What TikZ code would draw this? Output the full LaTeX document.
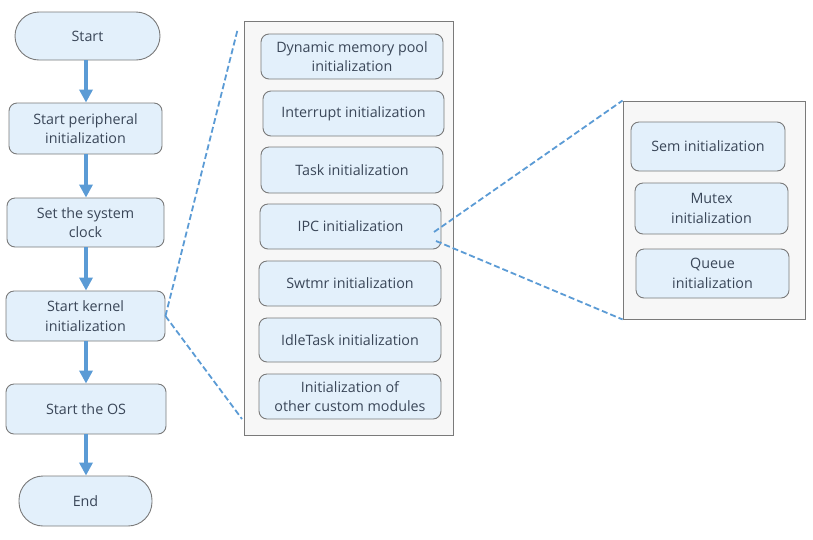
\documentclass[tikz,border=0pt]{standalone}
\usepackage{fontspec}
\setmainfont{Open Sans}
\usetikzlibrary{arrows.meta,shapes.misc}
\definecolor{boxfill}{HTML}{E3F0FB}
\definecolor{boxdraw}{HTML}{7A7A7A}
\definecolor{txt}{HTML}{3A4658}
\definecolor{arrowblue}{HTML}{5B9BD5}
\definecolor{panelfill}{HTML}{F7F7F7}
\begin{document}
\begin{tikzpicture}[x=1pt,y=-1pt,
  box/.style={draw=boxdraw,fill=boxfill,line width=0.9pt,rounded corners=8pt,
    text=txt,align=center,inner sep=0pt,font=\fontsize{14.3}{19.5}\selectfont},
  term/.style={box,rounded corners=24pt},
  flow/.style={draw=arrowblue,line width=3.5pt,-{Triangle[width=13pt,length=13pt]}},
  zoomline/.style={draw=arrowblue,line width=1.8pt,dash pattern=on 6pt off 3pt},
  panel/.style={draw=boxdraw,fill=panelfill,line width=0.9pt}]
\useasboundingbox (0,0) rectangle (813,539);
% left column
\node[term,minimum width=145pt,minimum height=48pt] (start) at (87.5,36) {Start};
\node[box,minimum width=153pt,minimum height=51pt] (per) at (85.5,128.5) {Start peripheral\\initialization};
\node[box,minimum width=157pt,minimum height=49pt] (clk) at (85.5,222.5) {Set the system\\clock};
\node[box,minimum width=159pt,minimum height=50pt] (ker) at (85.5,316) {Start kernel\\initialization};
\node[box,minimum width=160pt,minimum height=50pt] (os) at (86,409) {Start the OS};
\node[term,minimum width=133pt,minimum height=50pt] (end) at (85.5,501) {End};
\draw[flow] (start.south -| 86,0) -- (per.north -| 86,0);
\draw[flow] (per.south -| 86,0) -- (clk.north -| 86,0);
\draw[flow] (clk.south -| 86,0) -- (ker.north -| 86,0);
\draw[flow] (ker.south -| 86,0) -- (os.north -| 86,0);
\draw[flow] (os.south -| 86,0) -- (end.north -| 86,0);
% middle panel
\node[panel,minimum width=209pt,minimum height=414pt,inner sep=0pt] (mid) at (348.5,228) {};
\node[box,minimum width=182pt,minimum height=45pt] (dyn) at (352,56.5) {Dynamic memory pool\\initialization};
\node[box,minimum width=181pt,minimum height=45pt] (int) at (353.5,113.5) {Interrupt initialization};
\node[box,minimum width=182pt,minimum height=46pt] (task) at (352,170) {Task initialization};
\node[box,minimum width=181pt,minimum height=45pt] (ipc) at (350.5,226.5) {IPC initialization};
\node[box,minimum width=182pt,minimum height=45pt] (swt) at (350,283.5) {Swtmr initialization};
\node[box,minimum width=182pt,minimum height=44pt] (idle) at (350,340) {IdleTask initialization};
\node[box,minimum width=182pt,minimum height=45pt] (oth) at (350,396.5) {Initialization of\\other custom modules};
% right panel
\node[panel,minimum width=182pt,minimum height=218pt,inner sep=0pt] (right) at (714,210) {};
\node[box,minimum width=154pt,minimum height=49pt] (sem) at (708,146.5) {Sem initialization};
\node[box,minimum width=153pt,minimum height=51pt] (mut) at (711.5,208.5) {Mutex\\initialization};
\node[box,minimum width=153pt,minimum height=49pt] (que) at (712.5,273.5) {Queue\\initialization};
% zoom lines
\coordinate (m1) at (238,28);
\coordinate (m2) at (242,419);
\coordinate (i1) at (434,232);
\coordinate (i2) at (436,241);
\draw[zoomline] (ker.east) -- (m1);
\draw[zoomline] (ker.east) -- (m2);
\draw[zoomline] (i1) -- (right.north west);
\draw[zoomline] (i2) -- (right.south west);
\end{tikzpicture}
\end{document}
